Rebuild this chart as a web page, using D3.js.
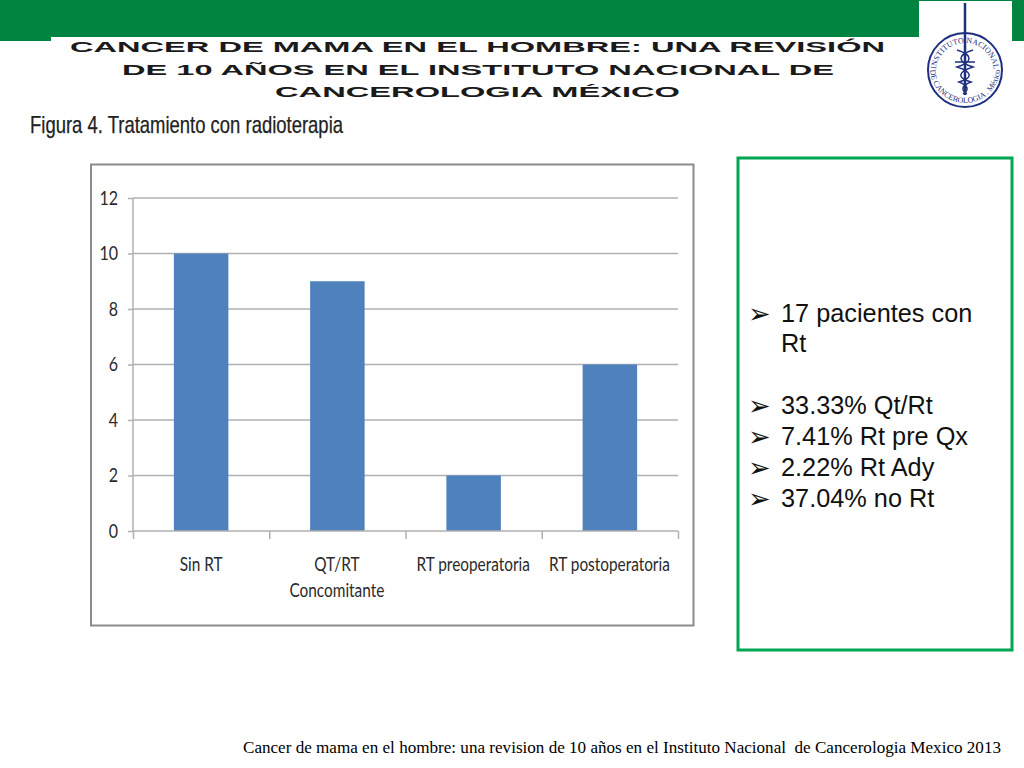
<!DOCTYPE html>
<html><head><meta charset="utf-8">
<style>html,body{margin:0;padding:0;background:#fff}svg{display:block}</style>
<script src="https://cdnjs.cloudflare.com/ajax/libs/d3/7.8.5/d3.min.js"></script>
</head><body><svg id="c" width="1024" height="768"></svg>
<script>
const categories=["Sin RT","QT/RT|Concomitante","RT preoperatoria","RT postoperatoria"];
const values=[10,9,2,6];
const yTicks=[0,2,4,6,8,10,12];
const titleLines=["CANCER DE MAMA EN EL HOMBRE: UNA REVISIÓN","DE 10 AÑOS EN EL INSTITUTO NACIONAL DE","CANCEROLOGIA MÉXICO"];
const figureTitle="Figura 4. Tratamiento con radioterapia";
const bullets=[["17 pacientes con","Rt"],["33.33% Qt/Rt"],["7.41% Rt pre Qx"],["2.22% Rt Ady"],["37.04% no Rt"]];
const footer="Cancer de mama en el hombre: una revision de 10 años en el Instituto Nacional  de Cancerologia Mexico 2013";

const svg=d3.select("#c");
const GREEN="#00843f";
// header band
svg.append("rect").attr("x",0).attr("y",0).attr("width",1024).attr("height",37).attr("fill",GREEN);
svg.append("rect").attr("x",0).attr("y",37).attr("width",51).attr("height",4).attr("fill",GREEN);
svg.append("rect").attr("x",1012).attr("y",37).attr("width",12).attr("height",4).attr("fill",GREEN);
svg.append("rect").attr("x",919).attr("y",1).attr("width",93).attr("height",110).attr("fill","#fff");
// title
const titleGeo=[[70,52,815],[122,75,712],[275,97,405]];
titleLines.forEach((t,i)=>svg.append("text").text(t).attr("x",titleGeo[i][0]).attr("y",titleGeo[i][1])
 .attr("textLength",titleGeo[i][2]).attr("lengthAdjust","spacingAndGlyphs")
 .attr("font-family","Liberation Sans").attr("font-weight","bold").attr("font-size",15).attr("fill","#1a1a1a"));
svg.append("text").text(figureTitle).attr("x",30).attr("y",133).attr("textLength",313).attr("lengthAdjust","spacingAndGlyphs")
 .attr("font-family","Liberation Sans").attr("font-size",24).attr("fill","#222").attr("stroke","#222").attr("stroke-width",.25);
// logo
const INK="#1f2f80";
const lg=svg.append("g").attr("transform","translate(965,70)");
lg.append("circle").attr("r",37).attr("fill","none").attr("stroke",INK).attr("stroke-width",2);
lg.append("line").attr("x1",0).attr("x2",0).attr("y1",-67).attr("y2",25).attr("stroke",INK).attr("stroke-width",2.5);
lg.append("line").attr("x1",-10).attr("x2",10).attr("y1",-8).attr("y2",-8).attr("stroke",INK).attr("stroke-width",1.5);
const defs=svg.append("defs");
defs.append("path").attr("id","arcT").attr("d","M-29,2 A29,29 0 0 1 29,2");
defs.append("path").attr("id","arcB").attr("d","M-35,-2 A35,35 0 0 0 35,-2");
lg.append("text").attr("font-family","Liberation Serif").attr("font-size",8).attr("fill",INK).attr("text-anchor","middle")
 .append("textPath").attr("href","#arcT").attr("startOffset","50%").text("INSTITUTO NACIONAL");
lg.append("text").attr("font-family","Liberation Serif").attr("font-size",8).attr("fill",INK).attr("text-anchor","middle")
 .append("textPath").attr("href","#arcB").attr("startOffset","50%").text("DE CANCEROLOGIA . México");
lg.append("path").attr("d","M-8,-20 C8,-15 8,-8 -8,-3 C8,2 8,8 -6,12 C4,16 4,20 -2,24 M8,-20 C-8,-15 -8,-8 8,-3 C-8,2 -8,8 6,12 C-4,16 -4,20 2,24")
 .attr("fill","none").attr("stroke",INK).attr("stroke-width",1.5);
// chart frame
svg.append("rect").attr("x",91).attr("y",164.5).attr("width",602.5).attr("height",461).attr("fill","#fff").attr("stroke","#8c8c8c").attr("stroke-width",2);
const x=d3.scaleBand().domain(categories).range([133,678]).paddingInner(.6).paddingOuter(.3);
const y=d3.scaleLinear().domain([0,12]).range([531,198]);
const tickCol="#b0b0b0";
const gy=svg.append("g").attr("transform","translate(133,0)").call(d3.axisLeft(y).tickValues(yTicks).tickSize(5).tickPadding(10));
gy.select(".domain").attr("stroke",tickCol).attr("stroke-width",1.5).attr("d","M0,198V531");
gy.selectAll("line").attr("stroke",tickCol).attr("stroke-width",1.5);
gy.selectAll("text").attr("font-family","Lato").attr("font-size",20).attr("fill","#2a2a2a")
 .attr("x",-18.75).attr("transform","scale(.8,1)");
svg.append("g").selectAll("line").data(yTicks.filter(d=>d>0)).join("line")
 .attr("x1",133).attr("x2",678).attr("y1",d=>y(d)).attr("y2",d=>y(d)).attr("stroke",tickCol).attr("stroke-width",1.5);
svg.append("g").selectAll("rect").data(values).join("rect")
 .attr("x",(d,i)=>x(categories[i])).attr("width",x.bandwidth())
 .attr("y",d=>y(d)).attr("height",d=>y(0)-y(d)).attr("fill","#4f81bd");
const gx=svg.append("g").attr("transform","translate(0,531)").call(d3.axisBottom(d3.scalePoint().domain(d3.range(5)).range([133,678])).tickSize(8).tickFormat(""));
gx.select(".domain").attr("stroke",tickCol).attr("stroke-width",1.5).attr("d","M133,0H678");
gx.selectAll("line").attr("stroke",tickCol).attr("stroke-width",1.5);
const labelShift=[0,-.5,-.5,-.5];
categories.forEach((c,i)=>{
  c.split("|").forEach((l,j)=>svg.append("g")
   .attr("transform",`translate(${x(c)+x.bandwidth()/2+labelShift[i]},${571+j*26}) scale(.81,1)`)
   .append("text").text(l).attr("text-anchor","middle").attr("font-family","Lato").attr("font-size",19).attr("fill","#2a2a2a"));
});
// right box
svg.append("rect").attr("x",738).attr("y",158).attr("width",274).attr("height",492).attr("fill","none").attr("stroke","#00a651").attr("stroke-width",3);
const rowY=[[322,352],[414],[445],[476],[507]];
bullets.forEach((b,i)=>{
  svg.append("text").text("➢").attr("x",748).attr("y",rowY[i][0]+1).attr("font-family","DejaVu Sans").attr("font-size",27).attr("fill","#111");
  b.forEach((l,j)=>svg.append("text").text(l).attr("x",781).attr("y",rowY[i][j]).attr("font-family","Liberation Sans").attr("font-size",25.3).attr("fill","#111"));
});
svg.append("text").text(footer).attr("xml:space","preserve").attr("x",243).attr("y",753).attr("textLength",758).attr("lengthAdjust","spacingAndGlyphs")
 .attr("font-family","Liberation Serif").attr("font-size",17).attr("fill","#000");
</script></body></html>
